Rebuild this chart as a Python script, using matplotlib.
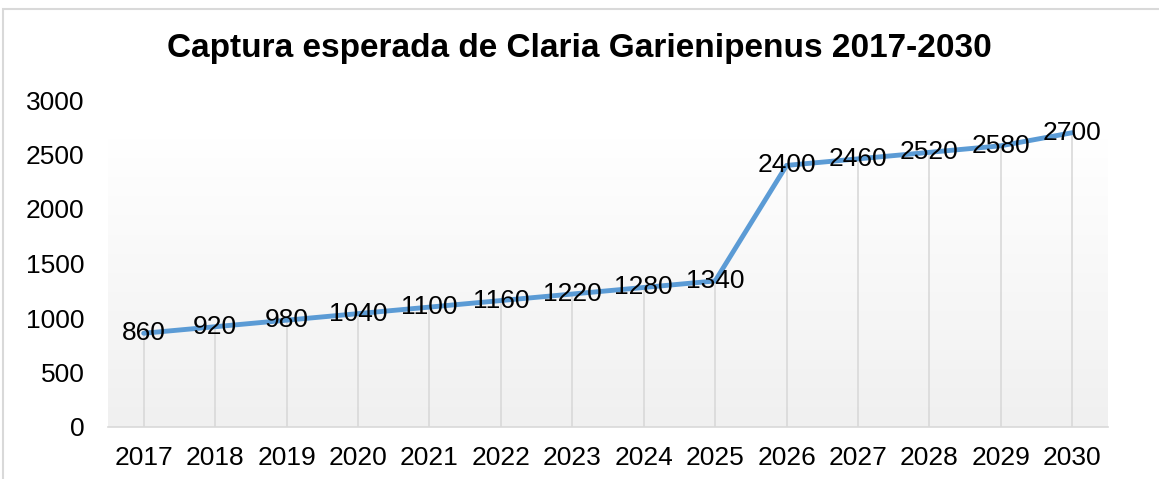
import matplotlib.pyplot as plt
import numpy as np
from matplotlib.patches import Rectangle

years = ["2017", "2018", "2019", "2020", "2021", "2022", "2023",
         "2024", "2025", "2026", "2027", "2028", "2029", "2030"]
captura = [860, 920, 980, 1040, 1100, 1160, 1220,
           1280, 1340, 2400, 2460, 2520, 2580, 2700]
y_ticks = [0, 500, 1000, 1500, 2000, 2500, 3000]

plt.rcParams['font.family'] = ['Liberation Sans', 'DejaVu Sans']

W, H = 1159, 479
fig = plt.figure(figsize=(W / 100, H / 100), dpi=100)
ax = fig.add_axes([108 / W, 1 - 427 / H, 1000 / W, 327 / H])

x = np.arange(len(years))

# gradient background of the plot area
grad = np.linspace(0, 1, 256).reshape(-1, 1)
cmap = plt.matplotlib.colors.LinearSegmentedColormap.from_list(
    "bg", ["#f0f0f0", "#ffffff"])
ax.imshow(grad, aspect="auto", cmap=cmap, origin="lower",
          extent=(-0.5, len(years) - 0.5, 0, 2650), zorder=0)

# drop lines
ax.vlines(x, 0, captura, color="#d9d9d9", lw=1.2, zorder=1)

ax.plot(x, captura, color="#5b9bd5", lw=3.5, solid_capstyle="round", zorder=2)

for xi, v in zip(x, captura):
    ax.text(xi, v, str(v), ha="center", va="center", fontsize=19, zorder=3)

ax.set_xlim(-0.5, len(years) - 0.5)
ax.set_ylim(0, 3000)
ax.set_yticks(y_ticks)
ax.set_xticks(x)
ax.set_xticklabels(years)
ax.tick_params(axis="both", length=0, labelsize=19)
ax.tick_params(axis="y", pad=17)
ax.tick_params(axis="x", pad=14)
for side in ["top", "right", "left"]:
    ax.spines[side].set_visible(False)
ax.spines["bottom"].set_color("#d9d9d9")
ax.spines["bottom"].set_linewidth(1.2)
ax.patch.set_alpha(0)

fig.text(0.5, 1 - 49 / H, "Captura esperada de Claria Garienipenus 2017-2030",
         ha="center", va="center", fontsize=24, fontweight="bold")

# chart border
fig.patches.append(Rectangle((3 / W, -0.1), 1.2, 1 - 9 / H + 0.1,
                             transform=fig.transFigure, fill=False,
                             edgecolor="#d9d9d9", lw=1.5))

fig.savefig("out.png", dpi=100)
